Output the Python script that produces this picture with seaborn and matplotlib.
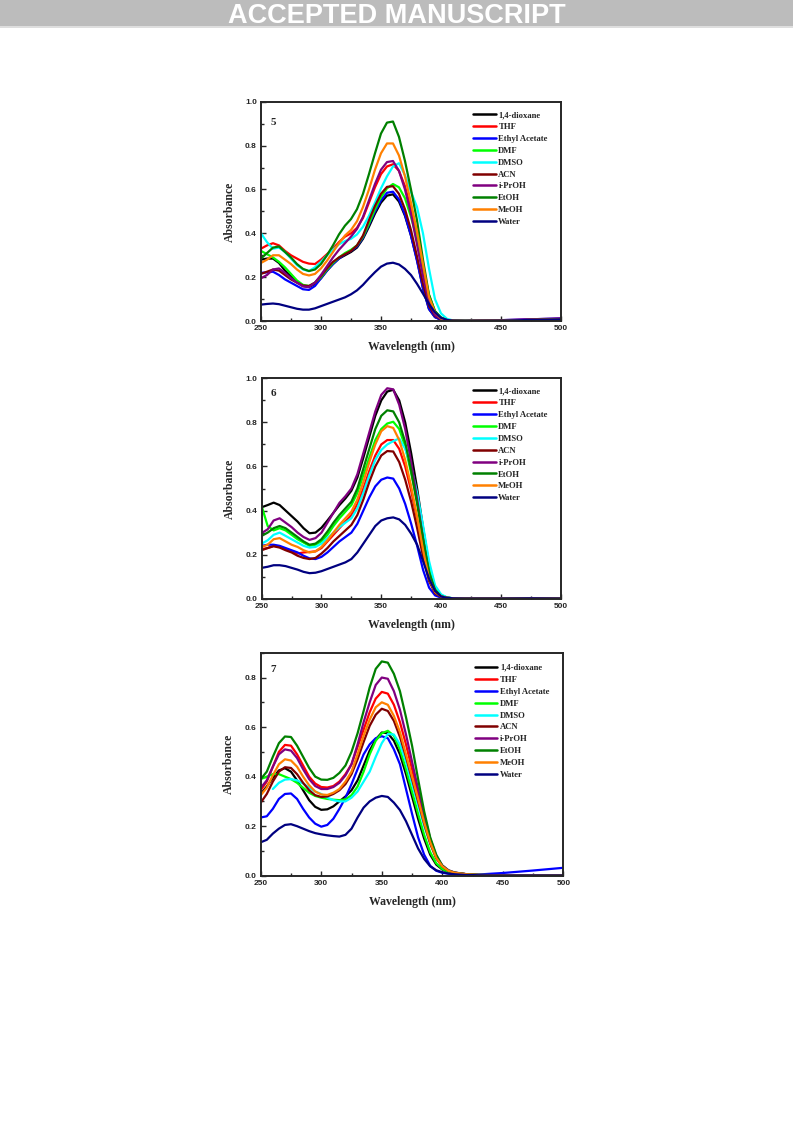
import matplotlib.pyplot as plt
import numpy as np
import pandas as pd
import seaborn as sns
from matplotlib.patches import Rectangle
from matplotlib.ticker import MultipleLocator

nan = np.nan

# wavelength grid (nm) shared by all spectra
wl = [250, 255, 260, 265, 270, 275, 280, 285, 290, 295, 300, 305, 310, 315, 320,
      325, 330, 335, 340, 345, 350, 355, 360, 365, 370, 375, 380, 385, 390, 395,
      400, 405, 410, 420, 430, 450, 475, 500]

solvents = ["1,4-dioxane", "THF", "Ethyl Acetate", "DMF", "DMSO", "ACN",
            "i-PrOH", "EtOH", "MeOH", "Water"]
colors = ["#000000", "#ff0000", "#0000ff", "#00ff00", "#00ffff", "#800000",
          "#800080", "#008000", "#ff8000", "#000080"]

# ---- compound 5 ----
dioxane_5 = [0.280, 0.285, 0.285, 0.265, 0.230, 0.205, 0.180, 0.160, 0.155, 0.170, 0.195, 0.230, 0.260, 0.285, 0.300, 0.315, 0.335, 0.375, 0.430, 0.490, 0.540, 0.572, 0.578, 0.545, 0.480, 0.390, 0.280, 0.150, 0.055, 0.018, 0.006, 0.003, 0.001, 0.000, 0.001, 0.002, 0.005, 0.008]
thf_5 = [0.330, 0.345, 0.355, 0.345, 0.320, 0.300, 0.285, 0.270, 0.262, 0.260, 0.280, 0.305, 0.330, 0.360, 0.385, 0.400, 0.425, 0.470, 0.540, 0.610, 0.670, 0.705, 0.715, 0.685, 0.615, 0.510, 0.390, 0.240, 0.100, 0.035, 0.011, 0.004, 0.002, 0.001, 0.001, 0.003, 0.006, 0.010]
ea_5 = [0.220, 0.222, 0.225, 0.210, 0.190, 0.175, 0.160, 0.145, 0.142, 0.160, 0.195, 0.230, 0.260, 0.285, 0.305, 0.320, 0.340, 0.380, 0.440, 0.500, 0.550, 0.585, 0.590, 0.555, 0.485, 0.390, 0.275, 0.150, 0.055, 0.018, 0.006, 0.003, 0.001, 0.001, 0.002, 0.004, 0.008, 0.012]
dmf_5 = [0.320, 0.305, 0.290, 0.270, 0.245, 0.215, 0.185, 0.165, 0.160, 0.175, 0.200, 0.235, 0.265, 0.290, 0.310, 0.325, 0.345, 0.385, 0.445, 0.510, 0.565, 0.605, 0.625, 0.610, 0.560, 0.475, 0.375, 0.250, 0.120, 0.045, 0.016, 0.005, 0.002, 0.001, 0.001, 0.002, 0.005, 0.008]
dmso_5 = [0.400, 0.360, 0.330, 0.335, 0.315, 0.285, 0.255, 0.235, 0.228, 0.245, 0.270, 0.300, 0.325, 0.350, 0.365, 0.375, 0.395, 0.430, 0.480, 0.540, 0.605, 0.660, 0.705, 0.720, 0.665, 0.590, 0.520, 0.400, 0.240, 0.100, 0.035, 0.010, 0.003, 0.001, 0.001, 0.002, 0.005, 0.008]
acn_5 = [0.215, 0.225, 0.235, 0.230, 0.210, 0.190, 0.175, 0.162, 0.160, 0.175, 0.205, 0.240, 0.270, 0.290, 0.305, 0.320, 0.345, 0.390, 0.460, 0.525, 0.580, 0.612, 0.615, 0.580, 0.510, 0.415, 0.295, 0.170, 0.070, 0.024, 0.008, 0.003, 0.001, 0.000, 0.001, 0.002, 0.005, 0.008]
ipr_5 = [0.195, 0.210, 0.235, 0.240, 0.220, 0.195, 0.175, 0.158, 0.155, 0.175, 0.210, 0.250, 0.290, 0.325, 0.355, 0.385, 0.420, 0.475, 0.550, 0.625, 0.690, 0.725, 0.730, 0.685, 0.600, 0.490, 0.350, 0.205, 0.085, 0.028, 0.009, 0.004, 0.002, 0.001, 0.002, 0.004, 0.008, 0.012]
etoh_5 = [0.285, 0.310, 0.335, 0.340, 0.315, 0.290, 0.260, 0.238, 0.228, 0.235, 0.260, 0.300, 0.345, 0.395, 0.435, 0.465, 0.510, 0.580, 0.670, 0.765, 0.855, 0.905, 0.910, 0.840, 0.730, 0.600, 0.460, 0.280, 0.120, 0.045, 0.015, 0.005, 0.002, 0.001, 0.001, 0.002, 0.005, 0.008]
meoh_5 = [0.265, 0.280, 0.300, 0.300, 0.280, 0.260, 0.235, 0.215, 0.208, 0.215, 0.240, 0.275, 0.315, 0.355, 0.390, 0.415, 0.455, 0.520, 0.600, 0.690, 0.765, 0.810, 0.810, 0.755, 0.660, 0.540, 0.410, 0.260, 0.110, 0.040, 0.012, 0.004, 0.002, 0.001, 0.001, 0.002, 0.005, 0.008]
water_5 = [0.075, 0.078, 0.080, 0.077, 0.070, 0.063, 0.056, 0.052, 0.052, 0.058, 0.068, 0.078, 0.088, 0.098, 0.108, 0.122, 0.140, 0.165, 0.195, 0.223, 0.248, 0.262, 0.266, 0.258, 0.238, 0.210, 0.170, 0.125, 0.078, 0.040, 0.015, 0.005, 0.002, 0.001, 0.001, 0.002, 0.005, 0.008]

# ---- compound 6 ----
dioxane_6 = [0.415, 0.425, 0.436, 0.425, 0.400, 0.375, 0.350, 0.320, 0.297, 0.300, 0.322, 0.355, 0.390, 0.425, 0.455, 0.490, 0.550, 0.640, 0.735, 0.830, 0.900, 0.940, 0.948, 0.900, 0.800, 0.660, 0.500, 0.320, 0.150, 0.050, 0.015, 0.005, 0.002, 0.001, 0.001, 0.001, 0.002, 0.001]
thf_6 = [0.225, 0.230, 0.240, 0.235, 0.225, 0.215, 0.205, 0.210, 0.212, 0.215, 0.230, 0.260, 0.290, 0.320, 0.350, 0.380, 0.430, 0.500, 0.580, 0.650, 0.700, 0.720, 0.720, 0.680, 0.600, 0.490, 0.360, 0.220, 0.090, 0.030, 0.010, 0.004, 0.002, 0.001, 0.001, 0.001, 0.002, 0.001]
ea_6 = [0.240, 0.245, 0.245, 0.240, 0.230, 0.220, 0.210, 0.195, 0.183, 0.180, 0.190, 0.210, 0.235, 0.260, 0.280, 0.300, 0.340, 0.400, 0.460, 0.510, 0.540, 0.550, 0.545, 0.500, 0.430, 0.340, 0.240, 0.130, 0.050, 0.015, 0.005, 0.002, 0.001, 0.001, 0.001, 0.001, 0.002, 0.001]
dmf_6 = [0.420, 0.330, 0.310, 0.320, 0.310, 0.290, 0.270, 0.255, 0.240, 0.245, 0.260, 0.290, 0.330, 0.365, 0.395, 0.425, 0.480, 0.560, 0.640, 0.720, 0.770, 0.795, 0.803, 0.770, 0.690, 0.570, 0.440, 0.290, 0.140, 0.050, 0.016, 0.005, 0.002, 0.001, 0.001, 0.001, 0.002, 0.001]
dmso_6 = [0.250, 0.265, 0.290, 0.300, 0.285, 0.270, 0.255, 0.240, 0.232, 0.235, 0.250, 0.275, 0.300, 0.325, 0.345, 0.365, 0.410, 0.480, 0.560, 0.630, 0.675, 0.700, 0.715, 0.727, 0.680, 0.600, 0.480, 0.330, 0.170, 0.060, 0.020, 0.006, 0.002, 0.001, 0.001, 0.001, 0.002, 0.001]
acn_6 = [0.220, 0.230, 0.238, 0.232, 0.220, 0.210, 0.195, 0.185, 0.180, 0.185, 0.205, 0.230, 0.260, 0.285, 0.310, 0.335, 0.380, 0.450, 0.530, 0.600, 0.650, 0.670, 0.668, 0.620, 0.540, 0.440, 0.320, 0.190, 0.080, 0.025, 0.008, 0.003, 0.001, 0.001, 0.001, 0.001, 0.002, 0.001]
ipr_6 = [0.298, 0.315, 0.355, 0.365, 0.345, 0.325, 0.300, 0.280, 0.267, 0.275, 0.300, 0.345, 0.390, 0.435, 0.465, 0.500, 0.565, 0.660, 0.755, 0.850, 0.925, 0.955, 0.950, 0.880, 0.770, 0.620, 0.450, 0.270, 0.110, 0.035, 0.010, 0.004, 0.002, 0.001, 0.001, 0.001, 0.002, 0.001]
etoh_6 = [0.285, 0.300, 0.320, 0.330, 0.320, 0.300, 0.280, 0.260, 0.245, 0.250, 0.270, 0.305, 0.345, 0.380, 0.410, 0.440, 0.500, 0.590, 0.680, 0.770, 0.830, 0.855, 0.850, 0.800, 0.710, 0.580, 0.430, 0.270, 0.120, 0.040, 0.012, 0.004, 0.002, 0.001, 0.001, 0.001, 0.002, 0.001]
meoh_6 = [0.235, 0.245, 0.270, 0.275, 0.260, 0.245, 0.235, 0.220, 0.210, 0.215, 0.235, 0.265, 0.300, 0.335, 0.365, 0.395, 0.450, 0.530, 0.620, 0.700, 0.760, 0.783, 0.775, 0.720, 0.630, 0.510, 0.370, 0.220, 0.090, 0.030, 0.010, 0.004, 0.002, 0.001, 0.001, 0.001, 0.002, 0.001]
water_6 = [0.140, 0.145, 0.152, 0.152, 0.148, 0.140, 0.132, 0.122, 0.116, 0.118, 0.125, 0.135, 0.145, 0.155, 0.165, 0.180, 0.210, 0.250, 0.290, 0.330, 0.355, 0.365, 0.369, 0.360, 0.335, 0.295, 0.245, 0.170, 0.090, 0.035, 0.010, 0.004, 0.002, 0.001, 0.001, 0.001, 0.002, 0.001]

# ---- compound 7 ----
dioxane_7 = [0.330, 0.360, 0.395, 0.425, 0.434, 0.420, 0.385, 0.345, 0.305, 0.278, 0.266, 0.268, 0.280, 0.300, 0.320, 0.345, 0.385, 0.445, 0.505, 0.550, 0.578, 0.575, 0.545, 0.490, 0.410, 0.320, 0.230, 0.150, 0.085, 0.045, 0.025, 0.015, 0.010, 0.005, 0.003, 0.002, 0.001, 0.001]
thf_7 = [0.345, 0.380, 0.440, 0.500, 0.528, 0.525, 0.490, 0.445, 0.400, 0.372, 0.358, 0.356, 0.362, 0.380, 0.410, 0.450, 0.520, 0.590, 0.660, 0.715, 0.742, 0.735, 0.690, 0.620, 0.530, 0.430, 0.330, 0.230, 0.140, 0.075, 0.040, 0.022, 0.013, 0.006, 0.003, 0.002, 0.001, 0.001]
ea_7 = [0.235, 0.240, 0.270, 0.310, 0.330, 0.332, 0.310, 0.270, 0.235, 0.210, 0.198, 0.205, 0.230, 0.270, 0.315, 0.370, 0.430, 0.490, 0.530, 0.555, 0.563, 0.555, 0.510, 0.450, 0.350, 0.250, 0.155, 0.085, 0.040, 0.020, 0.012, 0.008, 0.006, 0.005, 0.005, 0.011, 0.021, 0.032]
dmf_7 = [0.390, 0.400, 0.410, 0.410, 0.400, 0.390, 0.375, 0.355, 0.335, 0.322, 0.315, 0.310, 0.307, 0.305, 0.308, 0.325, 0.360, 0.420, 0.490, 0.545, 0.575, 0.585, 0.565, 0.510, 0.430, 0.340, 0.250, 0.165, 0.095, 0.050, 0.027, 0.015, 0.009, 0.005, 0.003, 0.002, 0.001, 0.001]
dmso_7 = [nan, nan, 0.350, 0.375, 0.388, 0.390, 0.385, 0.372, 0.355, 0.340, 0.330, 0.315, 0.305, 0.300, 0.300, 0.315, 0.340, 0.380, 0.420, 0.480, 0.535, 0.572, 0.570, 0.530, 0.460, 0.370, 0.285, 0.200, 0.130, 0.072, 0.040, 0.022, 0.013, 0.006, 0.003, 0.002, 0.001, 0.001]
acn_7 = [0.295, 0.330, 0.380, 0.420, 0.438, 0.435, 0.410, 0.375, 0.345, 0.325, 0.318, 0.320, 0.330, 0.345, 0.370, 0.410, 0.470, 0.540, 0.605, 0.650, 0.674, 0.665, 0.625, 0.560, 0.480, 0.390, 0.300, 0.210, 0.130, 0.070, 0.038, 0.020, 0.012, 0.006, 0.003, 0.002, 0.001, 0.001]
ipr_7 = [0.355, 0.385, 0.440, 0.490, 0.510, 0.505, 0.475, 0.430, 0.390, 0.362, 0.350, 0.350, 0.358, 0.375, 0.405, 0.450, 0.530, 0.620, 0.700, 0.770, 0.800, 0.795, 0.745, 0.670, 0.570, 0.460, 0.350, 0.245, 0.150, 0.080, 0.042, 0.022, 0.013, 0.006, 0.003, 0.002, 0.001, 0.001]
etoh_7 = [0.390, 0.420, 0.480, 0.535, 0.562, 0.560, 0.525, 0.480, 0.435, 0.400, 0.388, 0.387, 0.395, 0.415, 0.445, 0.500, 0.575, 0.665, 0.760, 0.835, 0.865, 0.860, 0.815, 0.745, 0.640, 0.525, 0.390, 0.260, 0.155, 0.085, 0.040, 0.020, 0.012, 0.006, 0.003, 0.002, 0.001, 0.001]
meoh_7 = [0.325, 0.355, 0.405, 0.450, 0.470, 0.465, 0.440, 0.400, 0.365, 0.340, 0.328, 0.326, 0.335, 0.350, 0.380, 0.420, 0.490, 0.565, 0.630, 0.680, 0.700, 0.690, 0.645, 0.580, 0.490, 0.400, 0.310, 0.215, 0.135, 0.072, 0.038, 0.020, 0.012, 0.006, 0.003, 0.002, 0.001, 0.001]
water_7 = [0.135, 0.145, 0.170, 0.190, 0.205, 0.208, 0.200, 0.190, 0.180, 0.172, 0.167, 0.163, 0.160, 0.158, 0.165, 0.190, 0.235, 0.275, 0.300, 0.315, 0.322, 0.318, 0.295, 0.265, 0.220, 0.165, 0.110, 0.068, 0.038, 0.022, 0.014, 0.009, 0.006, 0.003, 0.002, 0.001, 0.001, 0.001]

spectra_5 = [dioxane_5, thf_5, ea_5, dmf_5, dmso_5, acn_5, ipr_5, etoh_5, meoh_5, water_5]
spectra_6 = [dioxane_6, thf_6, ea_6, dmf_6, dmso_6, acn_6, ipr_6, etoh_6, meoh_6, water_6]
spectra_7 = [dioxane_7, thf_7, ea_7, dmf_7, dmso_7, acn_7, ipr_7, etoh_7, meoh_7, water_7]

sns.set_style("ticks")
plt.rcParams["xtick.direction"] = "in"
plt.rcParams["ytick.direction"] = "in"
plt.rcParams["font.family"] = ["Liberation Serif", "DejaVu Serif"]

SERIF = ["Liberation Serif", "DejaVu Serif"]
SANS = ["Liberation Sans", "DejaVu Sans"]


def long_frame(spectra):
    rows = []
    for name, vals in zip(solvents, spectra):
        rows.append(pd.DataFrame({"wl": wl, "A": vals, "solvent": name}))
    return pd.concat(rows, ignore_index=True)


def draw_panel(ax, spectra, label, ymax, yticks, leg_y, lab_y):
    df = long_frame(spectra)
    sns.lineplot(data=df, x="wl", y="A", hue="solvent", hue_order=solvents,
                 palette=dict(zip(solvents, colors)), linewidth=1.6,
                 estimator=None, sort=False, ax=ax)
    sns.move_legend(ax, "upper left", bbox_to_anchor=(0.708, leg_y), frameon=False,
                    title=None, borderaxespad=0, borderpad=0, handlelength=2.6,
                    handletextpad=0.3, labelspacing=0.45,
                    prop={"family": SERIF, "weight": "bold", "size": 6.2})
    for line in ax.get_legend().get_lines():
        line.set_linewidth(1.8)

    ax.set_xlim(250, 500)
    ax.set_ylim(0, ymax)
    ax.xaxis.set_major_locator(MultipleLocator(50))
    ax.xaxis.set_minor_locator(MultipleLocator(25))
    ax.set_yticks(yticks)
    ax.yaxis.set_minor_locator(MultipleLocator(0.1))
    ax.set_yticklabels([f"{t:.1f}" for t in yticks])
    ax.tick_params(which="major", length=3.5, width=1.0, pad=3)
    ax.tick_params(which="minor", length=2, width=1.0)
    for t in ax.get_xticklabels() + ax.get_yticklabels():
        t.set_fontfamily(SANS)
        t.set_fontweight("bold")
        t.set_fontsize(6)
    for sp in ax.spines.values():
        sp.set_linewidth(1.4)

    ax.set_xlabel("Wavelength (nm)", fontsize=8.5, fontweight="bold", family=SERIF)
    ax.set_ylabel("Absorbance", fontsize=8.5, fontweight="bold", family=SERIF)
    ax.xaxis.set_label_coords(0.5, -0.09)
    ax.yaxis.set_label_coords(-0.085, 0.5)
    ax.text(0.04, lab_y, label, transform=ax.transAxes, fontsize=8,
            fontweight="bold", family=SERIF, ha="center", va="center")


fig = plt.figure(figsize=(7.93, 11.21), dpi=100)

# grey banner at the top of the page
fig.patches.append(Rectangle((0, 1 - 26 / 1121), 1, 26 / 1121, transform=fig.transFigure,
                             facecolor="#bcbcbc", edgecolor="none", zorder=0))
fig.patches.append(Rectangle((0, 1 - 28 / 1121), 1, 2 / 1121, transform=fig.transFigure,
                             facecolor="#dedede", edgecolor="none", zorder=0))
fig.text(0.5, 1 - 23 / 1121, "ACCEPTED MANUSCRIPT", ha="center", va="baseline",
         color="white", fontsize=19.5, fontweight="bold",
         family=["Liberation Sans Narrow", "Liberation Sans", "DejaVu Sans"])

ax1 = fig.add_axes([0.3291, 0.7136, 0.3783, 0.1956])
ax2 = fig.add_axes([0.3300, 0.4659, 0.3770, 0.1966])
ax3 = fig.add_axes([0.3288, 0.2188, 0.3816, 0.1989])

draw_panel(ax1, spectra_5, "5", 1.0, [0.0, 0.2, 0.4, 0.6, 0.8, 1.0], 0.958, 0.907)
draw_panel(ax2, spectra_6, "6", 1.0, [0.0, 0.2, 0.4, 0.6, 0.8, 1.0], 0.960, 0.932)
draw_panel(ax3, spectra_7, "7", 0.9, [0.0, 0.2, 0.4, 0.6, 0.8], 0.950, 0.925)

fig.savefig("out.png", dpi=100)
